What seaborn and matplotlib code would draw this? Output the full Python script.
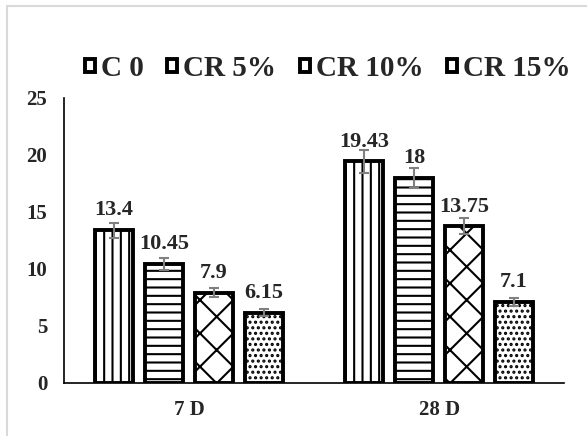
import matplotlib as mpl
import matplotlib.pyplot as plt
import seaborn as sns
import pandas as pd
from matplotlib.lines import Line2D
from matplotlib.patches import Patch

# data
days = ["7 D", "28 D"]
mixes = ["C 0", "CR 5%", "CR 10%", "CR 15%"]
values_7d = [13.4, 10.45, 7.9, 6.15]
values_28d = [19.43, 18, 13.75, 7.1]
err_7d = [0.67, 0.52, 0.40, 0.31]
err_28d = [0.97, 0.90, 0.69, 0.36]
yticks = [0, 5, 10, 15, 20, 25]

hatches = ["||", "--", "x", "..."]

sns.set_style("white")
plt.rcParams["font.family"] = ["Liberation Serif", "DejaVu Serif"]
plt.rcParams["font.weight"] = "bold"
plt.rcParams["hatch.linewidth"] = 1.5

df = pd.DataFrame({
    "day": days * len(mixes),
    "mix": [m for m in mixes for _ in days],
    "value": [v for i in range(len(mixes)) for v in (values_7d[i], values_28d[i])],
    "err": [e for i in range(len(mixes)) for e in (err_7d[i], err_28d[i])],
})

fig = plt.figure(figsize=(5.87, 4.36), dpi=100)
ax = fig.add_axes([0.109, 0.1216, 0.852, 0.6537])

sns.barplot(data=df, x="day", y="value", hue="mix", order=days, hue_order=mixes,
            palette=["white"] * len(mixes), saturation=1, errorbar=None,
            edgecolor="black", linewidth=2.8, width=0.8, gap=0.24, ax=ax)

for cont, h, mix in zip(ax.containers, hatches, mixes):
    sub = df[df["mix"] == mix].set_index("day").loc[days]
    xs = []
    for bar in cont.patches:
        bar.set_hatch(h)
        xs.append(bar.get_x() + bar.get_width() / 2)
    ax.errorbar(xs, sub["value"].values, yerr=sub["err"].values, fmt="none",
                ecolor="#808080", elinewidth=1.5, capsize=3.6, capthick=1.5, zorder=4)
    ax.bar_label(cont, labels=[f"{v:g}" for v in sub["value"].values], padding=7,
                 fontsize=16, fontweight="bold")

ax.get_legend().remove()
handles = [Patch(facecolor="white", edgecolor="black", linewidth=2.8) for _ in mixes]
fig.legend(handles, mixes, loc="center", bbox_to_anchor=(0.558, 0.843),
           ncol=4, frameon=False, fontsize=21, handlelength=0.35, handleheight=0.35,
           handletextpad=0.2, columnspacing=0.8, borderaxespad=0, borderpad=0)

ax.set_ylim(0, 25)
ax.set_yticks(yticks)
ax.set_xlim(-0.5, 1.5)
ax.set_xlabel("")
ax.set_ylabel("")
ax.tick_params(axis="y", length=0, pad=12, labelsize=15)
ax.tick_params(axis="x", length=0, pad=12, labelsize=15)
sns.despine(ax=ax)
for s in ["left", "bottom"]:
    ax.spines[s].set_color("black")
    ax.spines[s].set_linewidth(1.2)

# light grey chart-area border (top and left edges visible)
fig.add_artist(Line2D([7 / 587, 7 / 587], [0, 1 - 6 / 436], color="#d9d9d9", lw=1.5))
fig.add_artist(Line2D([7 / 587, 1], [1 - 6 / 436, 1 - 6 / 436], color="#d9d9d9", lw=1.5))

fig.savefig("out.png", dpi=100)
